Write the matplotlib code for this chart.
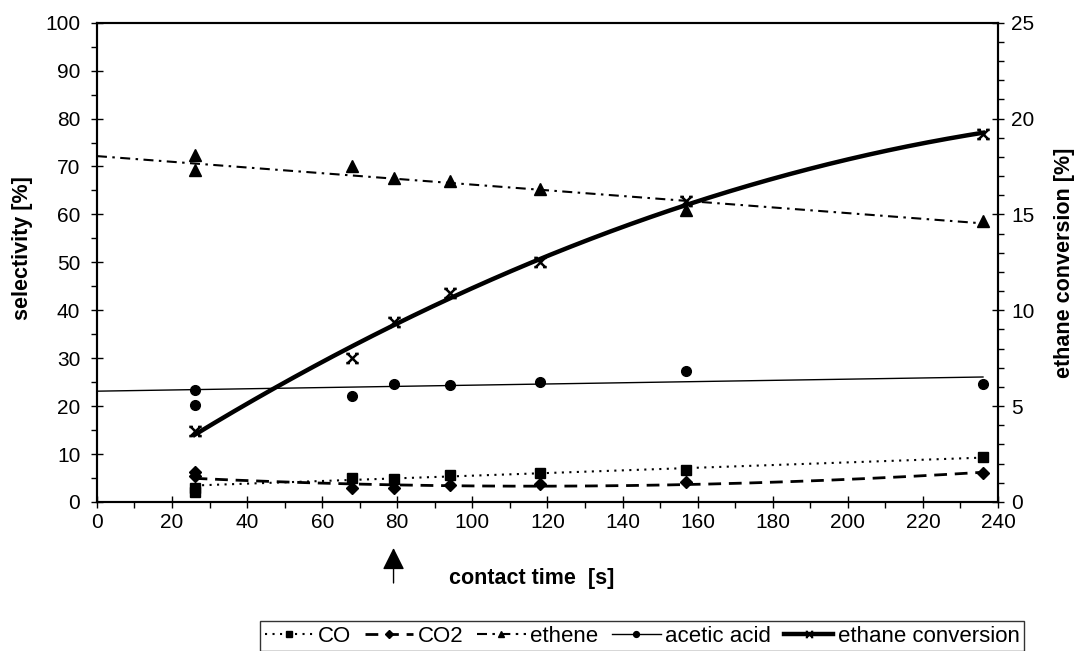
import matplotlib
matplotlib.use("Agg")
import matplotlib.pyplot as plt
from matplotlib.lines import Line2D
from matplotlib.path import Path
from matplotlib.ticker import MultipleLocator
import numpy as np

plt.rcParams['font.family'] = ['Liberation Sans', 'DejaVu Sans']

# 接触時間 [s]
contact_time = [26, 68, 79, 94, 118, 157, 236]

# 選択率 [%]
co = [3.0, 5.1, 4.9, 5.6, 6.0, 6.7, 9.3]
co2 = [5.5, 3.0, 3.0, 3.5, 3.7, 4.1, 6.0]
ethene = [69.2, 70.2, 67.5, 67.0, 65.4, 61.0, 58.6]
acetic_acid = [23.4, 22.1, 24.6, 24.4, 25.1, 27.3, 24.7]

# 26 s の再測定値
repeat_time = [26]
co_repeat = [2.0]
co2_repeat = [6.3]
ethene_repeat = [72.5]
acetic_acid_repeat = [20.2]

# エタン転化率 [%]
ethane_conversion = [3.7, 7.5, 9.4, 10.9, 12.5, 15.7, 19.2]

LABELS = ["CO", "CO2", "ethene", "acetic acid", "ethane conversion"]

# 先端に短い横棒 (セリフ) の付いた x 印
STAR = Path(
    [(-1, -1), (1, 1), (-1, 1), (1, -1),
     (-1.35, 1), (-0.6, 1), (0.6, 1), (1.35, 1),
     (-1.35, -1), (-0.6, -1), (0.6, -1), (1.35, -1)],
    [Path.MOVETO, Path.LINETO] * 6,
)


# 近似曲線 (Excel の近似曲線と同じく多項式近似)
def trend(x, y, deg, x_start, x_end):
    coef = np.polyfit(x, y, deg)
    xs = np.linspace(x_start, x_end, 200)
    return xs, np.polyval(coef, xs)


def plot_selectivity():
    fig = plt.figure(figsize=(10.76, 6.51), dpi=100)
    ax = fig.add_axes([0.0901, 0.2289, 0.8374, 0.7362])
    ax2 = ax.twinx()

    styles = [
        dict(ls=(0, (1, 2.6)), lw=1.5, marker='s', ms=7),
        dict(ls=(0, (4.6, 2.8)), lw=2, marker='D', ms=6.5),
        dict(ls=(0, (4.8, 2.6, 1.2, 2.6)), lw=1.5, marker='^', ms=8),
        dict(ls='-', lw=1.0, marker='o', ms=7),
        dict(ls='-', lw=3.2, marker=STAR, ms=9),
    ]

    series = [
        (co, co_repeat, 1, 26),
        (co2, co2_repeat, 2, 26),
        (ethene, ethene_repeat, 1, 0),
        (acetic_acid, acetic_acid_repeat, 1, 0),
    ]

    for (y, y_rep, deg, x0), st in zip(series, styles):
        xs, ys = trend(contact_time, y, deg, x0, contact_time[-1])
        ax.plot(xs, ys, color='black', ls=st['ls'], lw=st['lw'], zorder=2)
        ax.plot(contact_time, y, ls='none', marker=st['marker'], ms=st['ms'],
                color='black', zorder=3)
        ax.plot(repeat_time, y_rep, ls='none', marker=st['marker'], ms=st['ms'],
                color='black', zorder=3)

    # 転化率は右軸
    st = styles[4]
    xs, ys = trend(contact_time, ethane_conversion, 2, contact_time[0], contact_time[-1])
    ax2.plot(xs, ys, color='black', lw=st['lw'], zorder=2)
    ax2.plot(contact_time, ethane_conversion, ls='none', marker=st['marker'],
             ms=st['ms'], mew=1.8, mfc='none', color='black', zorder=3)

    # 軸の設定
    ax.set_xlim(0, 240)
    ax.set_ylim(0, 100)
    ax2.set_ylim(0, 25)
    ax.xaxis.set_major_locator(MultipleLocator(20))
    ax.xaxis.set_minor_locator(MultipleLocator(10))
    ax.yaxis.set_major_locator(MultipleLocator(10))
    ax.yaxis.set_minor_locator(MultipleLocator(5))
    ax2.yaxis.set_major_locator(MultipleLocator(5))
    ax2.yaxis.set_minor_locator(MultipleLocator(1))

    for a in (ax, ax2):
        a.tick_params(which='major', direction='inout', length=8, width=1,
                      labelsize=15, pad=4)
        a.tick_params(which='minor', direction='out', length=4, width=1)
        for sp in a.spines.values():
            sp.set_linewidth(1.5)
    ax.tick_params(axis='y', which='major', pad=8)
    ax2.tick_params(axis='y', which='major', pad=5.5)

    ax.set_xlabel("contact time  [s]", fontsize=15.5, fontweight='bold')
    ax.set_ylabel("selectivity [%]", fontsize=15.5, fontweight='bold')
    ax2.set_ylabel("ethane conversion [%]", fontsize=15.5, fontweight='bold')
    ax.xaxis.set_label_coords(0.483, -0.138)
    ax.yaxis.set_label_coords(-0.071, 0.53)
    ax2.yaxis.set_label_coords(1.062, 0.5)

    # 80 s の位置を示す矢印
    ax.annotate('', xy=(79, -0.096), xytext=(79, -0.169),
                xycoords=ax.get_xaxis_transform(),
                textcoords=ax.get_xaxis_transform(),
                arrowprops=dict(arrowstyle='-|>,head_length=0.68,head_width=0.34',
                                mutation_scale=20, color='black', lw=1,
                                shrinkA=0, shrinkB=0),
                annotation_clip=False)

    # 凡例
    handles = []
    for st in styles:
        handles.append(Line2D([], [], color='black', ls=st['ls'], lw=st['lw'],
                              marker=st['marker'], ms=st['ms'] * 0.6))
    handles[4].set_markerfacecolor('none')
    handles[4].set_markeredgewidth(1.5)
    leg = fig.legend(handles, LABELS, loc='lower center',
                     bbox_to_anchor=(0.5967, 0.0), ncol=5, fontsize=16,
                     frameon=True, fancybox=False, edgecolor='black',
                     handlelength=2.2, handletextpad=0.2, columnspacing=0.6,
                     borderpad=0.2, borderaxespad=0.0)
    leg.get_frame().set_linewidth(1.0)

    fig.savefig("out.png", dpi=100)
    plt.close(fig)


if __name__ == '__main__':
    plot_selectivity()
